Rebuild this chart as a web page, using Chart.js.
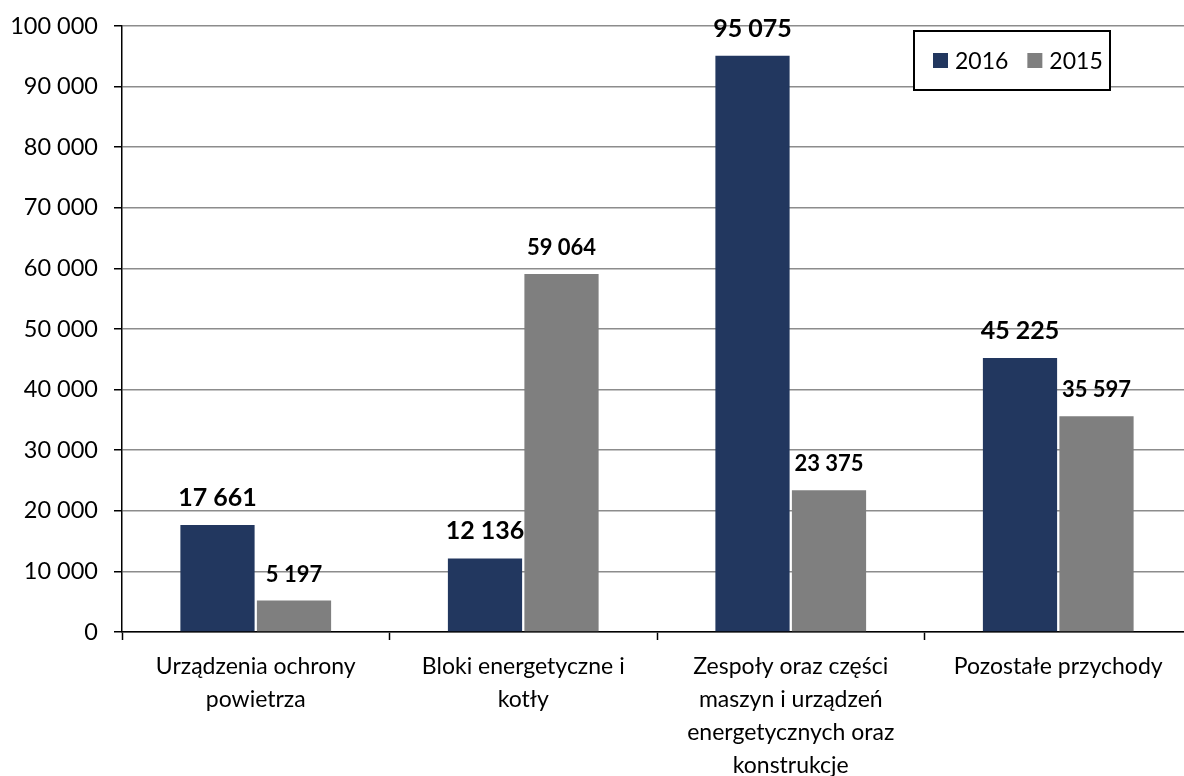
<!DOCTYPE html>
<html>
<head>
<meta charset="utf-8">
<script src="https://cdn.jsdelivr.net/npm/chart.js@4/dist/chart.umd.min.js"></script>
<style>
  html, body { margin: 0; padding: 0; background: #fff; overflow: hidden; }
  #wrap { width: 1192px; height: 776px; }
</style>
</head>
<body>
<div id="wrap"><canvas id="revenueChart" width="1192" height="776"></canvas></div>
<script>
// Chart data
const categories = [
  ['Urządzenia ochrony', 'powietrza'],
  ['Bloki energetyczne i', 'kotły'],
  ['Zespoły oraz części', 'maszyn i urządzeń', 'energetycznych oraz', 'konstrukcje'],
  ['Pozostałe przychody']
];
const seriesNames = ['2016', '2015'];
const values2016 = [17661, 12136, 95075, 45225];
const values2015 = [5197, 59064, 23375, 35597];
const yTicks = [0, 10000, 20000, 30000, 40000, 50000, 60000, 70000, 80000, 90000, 100000];

const FONT = 'Lato';

// Format number with space as thousands separator
function formatNumber(v) {
  return String(v).replace(/\B(?=(\d{3})+(?!\d))/g, ' ');
}

// Value labels above bars
const valueLabels = {
  id: 'valueLabels',
  afterDatasetsDraw(chart) {
    const ctx = chart.ctx;
    chart.data.datasets.forEach((ds, i) => {
      const meta = chart.getDatasetMeta(i);
      ctx.save();
      ctx.fillStyle = '#000';
      ctx.textAlign = 'center';
      ctx.textBaseline = 'alphabetic';
      ctx.font = 'bold ' + (i === 0 ? 25 : 22) + 'px ' + FONT;
      meta.data.forEach((bar, j) => {
        ctx.fillText(formatNumber(ds.data[j]), bar.x, bar.y - 19);
      });
      ctx.restore();
    });
  }
};

// Boxed legend in the top right corner
const boxLegend = {
  id: 'boxLegend',
  afterDraw(chart) {
    const ctx = chart.ctx;
    const boxX = 914, boxY = 31, boxW = 196, boxH = 59;
    ctx.save();
    ctx.fillStyle = '#fff';
    ctx.fillRect(boxX, boxY, boxW, boxH);
    ctx.strokeStyle = '#000';
    ctx.lineWidth = 2;
    ctx.strokeRect(boxX, boxY, boxW, boxH);
    ctx.font = '23px ' + FONT;
    ctx.textBaseline = 'middle';
    ctx.textAlign = 'left';
    let x = 933;
    const midY = boxY + boxH / 2;
    chart.data.datasets.forEach(ds => {
      ctx.fillStyle = ds.backgroundColor;
      ctx.fillRect(x, midY - 7.5, 15, 15);
      ctx.fillStyle = '#000';
      ctx.fillText(ds.label, x + 22, midY + 1);
      x += 22 + ctx.measureText(ds.label).width + 19;
    });
    ctx.restore();
  }
};

const ctx = document.getElementById('revenueChart').getContext('2d');
new Chart(ctx, {
  type: 'bar',
  data: {
    labels: categories,
    datasets: [
      {
        label: seriesNames[0],
        data: values2016,
        backgroundColor: '#22375f',
        categoryPercentage: 0.572,
        barPercentage: 0.97
      },
      {
        label: seriesNames[1],
        data: values2015,
        backgroundColor: '#7f7f7f',
        categoryPercentage: 0.572,
        barPercentage: 0.97
      }
    ]
  },
  options: {
    responsive: false,
    animation: false,
    events: [],
    layout: { padding: { top: 26, right: 0, left: 0, bottom: 0 } },
    plugins: {
      legend: { display: false },
      tooltip: { enabled: false }
    },
    scales: {
      x: {
        grid: {
          offset: true,
          drawOnChartArea: false,
          drawTicks: true,
          tickLength: 8,
          tickColor: '#000',
          tickWidth: 1.5
        },
        border: { color: '#000', width: 1.5 },
        ticks: {
          color: '#000',
          maxRotation: 0,
          autoSkip: false,
          padding: 10,
          font: { family: FONT, size: 23, lineHeight: 1.43 }
        },
        afterFit(scale) { scale.height = 144; }
      },
      y: {
        min: 0,
        max: 100000,
        afterBuildTicks(scale) {
          scale.ticks = yTicks.map(v => ({ value: v }));
        },
        grid: {
          color: '#8c8c8c',
          lineWidth: 1.5,
          drawTicks: true,
          tickLength: 8,
          tickColor: '#000',
          tickWidth: 1.5
        },
        border: { color: '#000', width: 1.5 },
        ticks: {
          color: '#000',
          padding: 16,
          font: { family: FONT, size: 23.5 },
          callback: v => formatNumber(v)
        },
        afterFit(scale) {
          scale.width = 122;
          scale.paddingTop = 0;
          scale.paddingBottom = 0;
        }
      }
    }
  },
  plugins: [valueLabels, boxLegend]
});
</script>
</body>
</html>
